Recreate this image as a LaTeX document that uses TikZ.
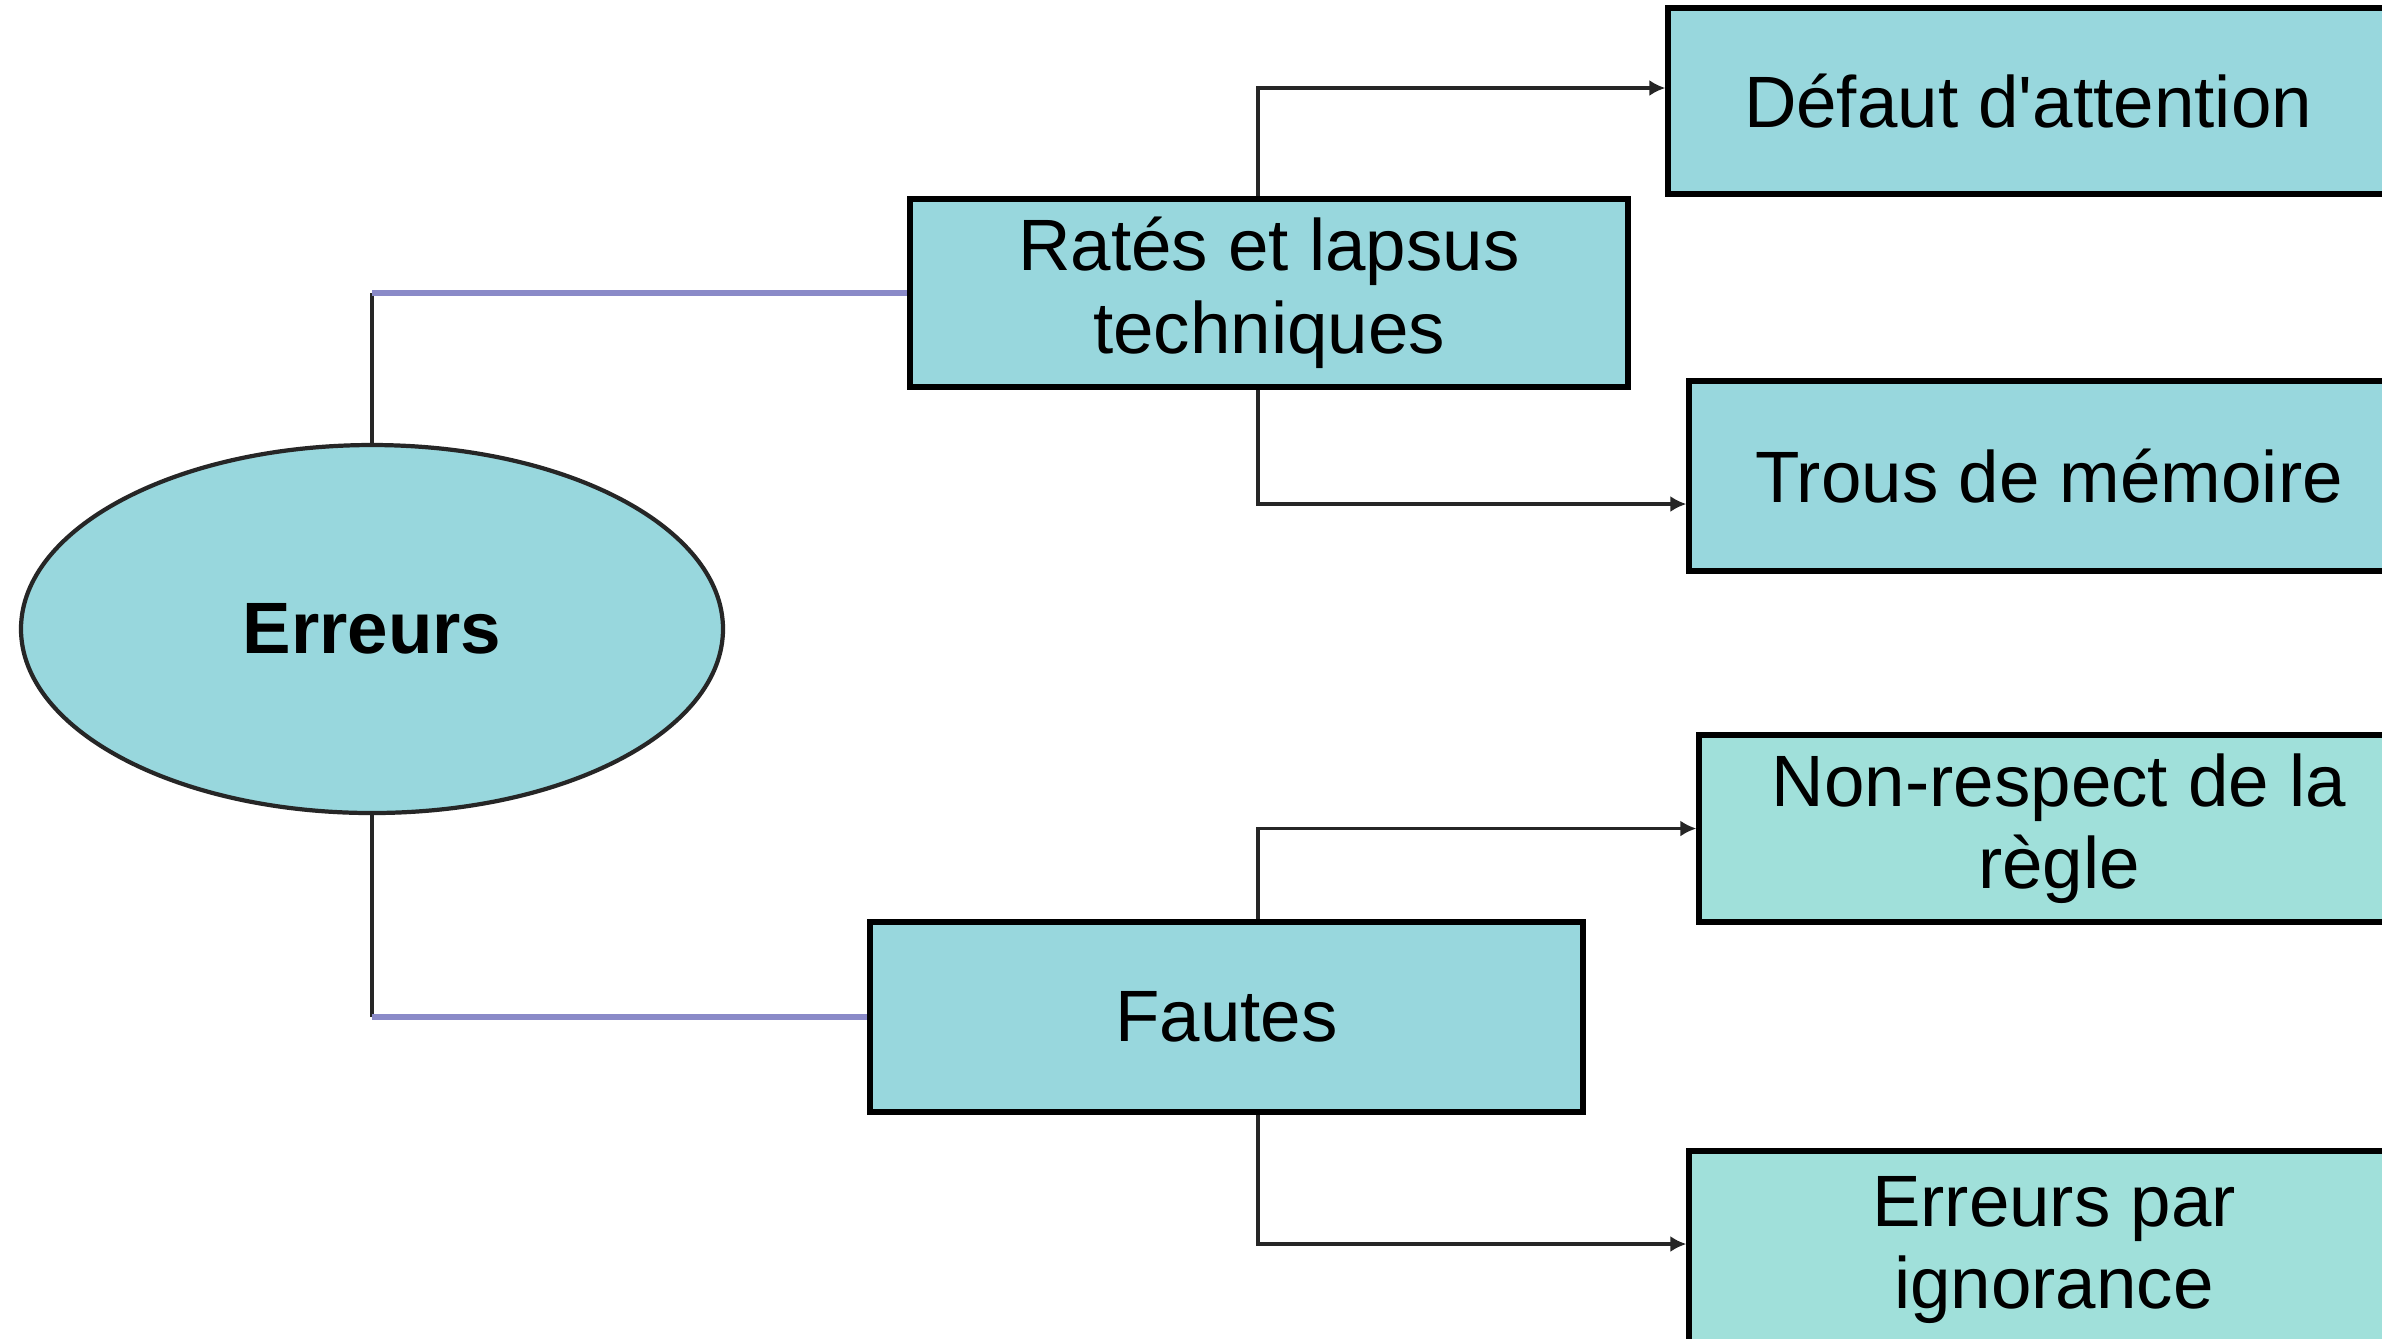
\documentclass[tikz,border=0pt]{standalone}
\usepackage{fontspec}
\setmainfont{Liberation Sans}[Ligatures=TeXOff]
\usetikzlibrary{shapes.geometric,arrows.meta}
\definecolor{boxcyan}{RGB}{152,215,221}
\definecolor{boxgreen}{RGB}{160,224,218}
\definecolor{linkblue}{RGB}{138,138,200}
\begin{document}
\begin{tikzpicture}[
    box/.style={draw=black,line width=1.5pt,fill=boxcyan,minimum height=1.88cm,inner sep=0pt,align=center,font=\fontsize{20.7}{23.5}\selectfont},
    link/.style={line width=1.1pt,color=black!85},
    arrow/.style={link,-{Latex[length=1.6mm,width=1.6mm]}}]
    \useasboundingbox (0,0) rectangle (23.82,-13.38);
    \clip (0,0) rectangle (23.82,-13.38);
    \fill[white] (0,0) rectangle (23.82,-13.38);
    \node[ellipse,draw=black!85,line width=1.2pt,fill=boxcyan,minimum width=7.02cm,minimum height=3.68cm,font=\fontsize{20.7}{23.5}\selectfont\bfseries] (erreurs) at (3.72,-6.29) {Erreurs};
    \node[box,minimum width=7.18cm] (rates) at (12.69,-2.93) {Ratés et lapsus\\techniques};
    \node[box,minimum width=7.13cm,minimum height=1.90cm] (fautes) at (12.265,-10.17) {Fautes};
    \node[box,minimum width=7.2cm,minimum height=1.86cm] (defaut) at (20.28,-1.01) {Défaut d'attention};
    \node[box,minimum width=7.2cm,minimum height=1.90cm] (trous) at (20.49,-4.76) {Trous de mémoire};
    \node[box,fill=boxgreen,minimum width=7.2cm,minimum height=1.87cm] (regle) at (20.59,-8.285) {Non-respect de la\\règle};
    \node[box,fill=boxgreen,minimum width=7.3cm,minimum height=1.98cm] (ignorance) at (20.54,-12.50) {Erreurs par\\ignorance};
    \coordinate (trunk) at (12.58,0);
    \coordinate (top) at (erreurs.north |- rates.west);
    \coordinate (bot) at (erreurs.south |- fautes.west);
    \draw[link] (erreurs.north) -- (top);
    \draw[link,linkblue,line width=1.6pt] (top) -- (rates.west);
    \draw[link] (erreurs.south) -- (bot);
    \draw[link,linkblue,line width=1.6pt] (bot) -- (fautes.west);
    \draw[arrow] (rates.north -| trunk) |- ([yshift=1.3mm]defaut.west);
    \draw[arrow] (rates.south -| trunk) |- ([yshift=-2.8mm]trous.west);
    \draw[arrow] (fautes.north -| trunk) |- (regle.west);
    \draw[arrow] (fautes.south -| trunk) |- ([yshift=0.6mm]ignorance.west);
\end{tikzpicture}
\end{document}
